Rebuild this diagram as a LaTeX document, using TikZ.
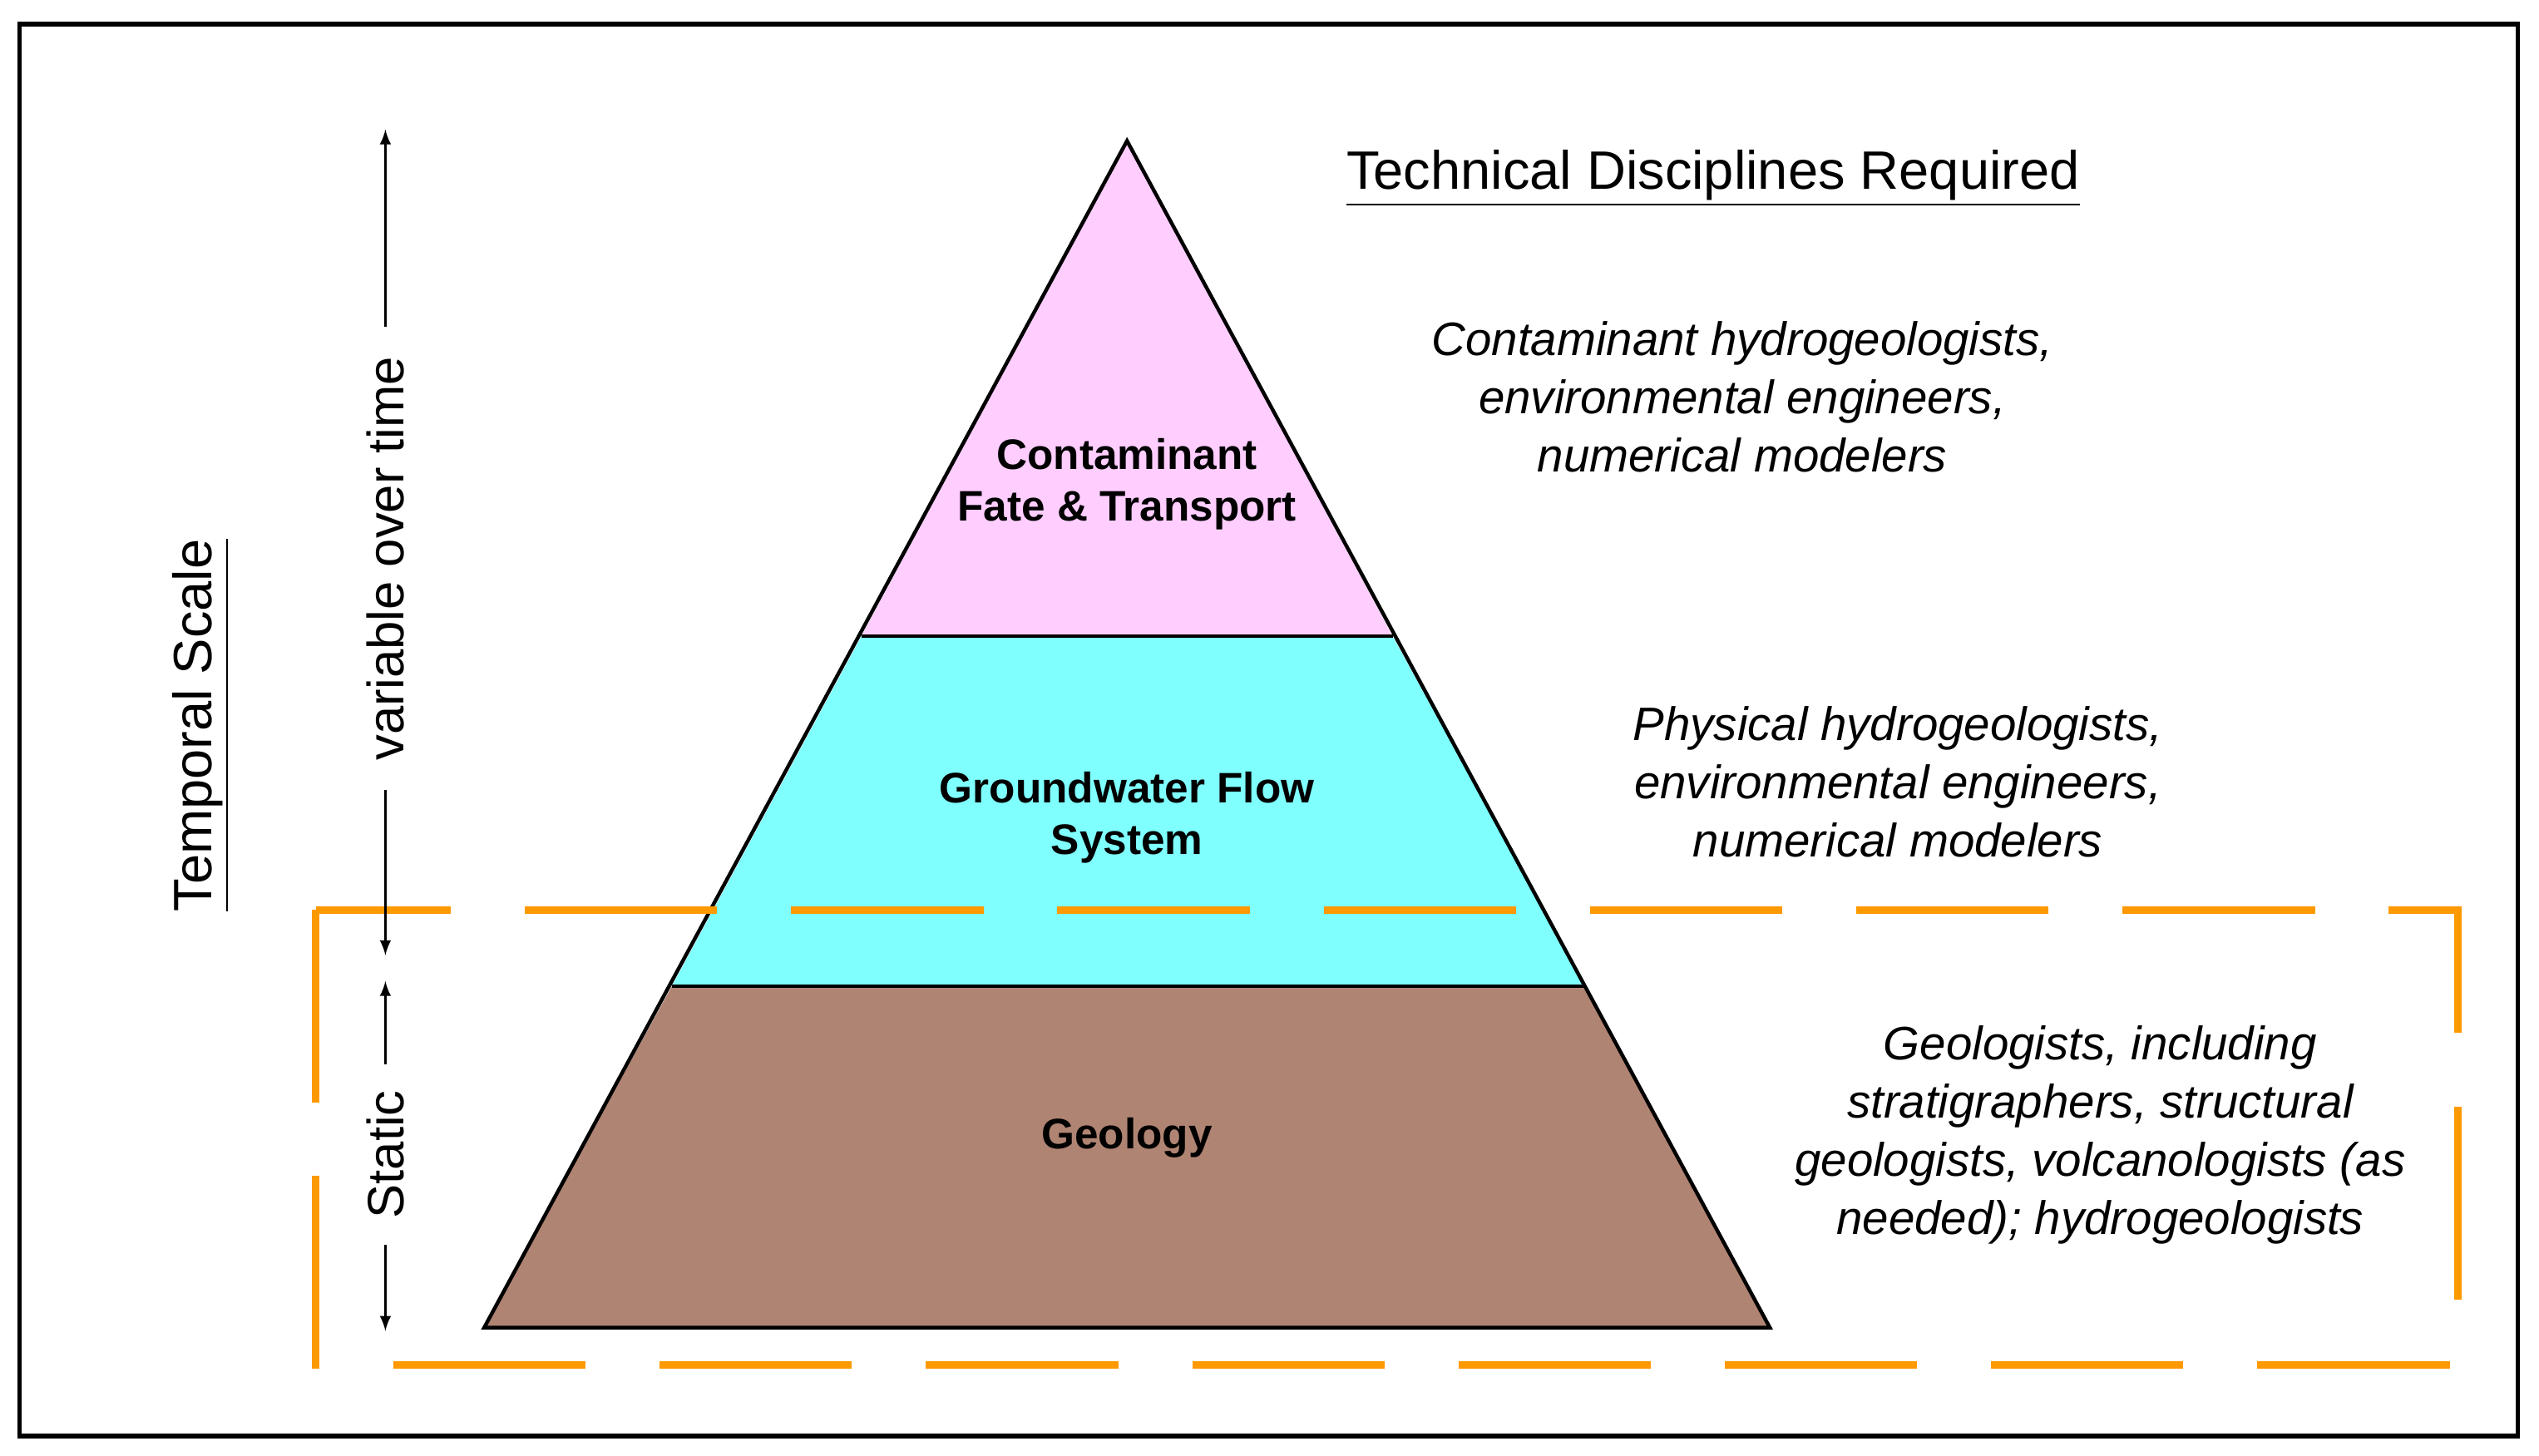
\documentclass[tikz,border=0pt]{standalone}
\usepackage{fontspec}
\setmainfont{Liberation Sans}
\definecolor{pinkL}{RGB}{255,206,255}
\definecolor{cyanL}{RGB}{128,255,255}
\definecolor{brownL}{RGB}{176,132,115}
\definecolor{orangeD}{RGB}{255,153,0}
\begin{document}
\begin{tikzpicture}[x=0.02cm,y=-0.02cm,
  lab/.style={font=\fontsize{15}{18}\selectfont\bfseries,align=center},
  disc/.style={font=\fontsize{16.5}{20.5}\selectfont\itshape,align=center},
  arr/.style={-latex,line width=0.8pt}]
\useasboundingbox (0,0) rectangle (1568,899);
\draw[line width=1.6pt] (12,15) rectangle (1555,887);
% pyramid
\coordinate (A) at (696,87);
\coordinate (L1) at (532,393); \coordinate (R1) at (860,393);
\coordinate (L2) at (415,609); \coordinate (R2) at (979,609);
\coordinate (BL) at (299,820); \coordinate (BR) at (1093,820);
\fill[brownL] (L2) -- (R2) -- (BR) -- (BL) -- cycle;
\fill[cyanL] (L1) -- (R1) -- (R2) -- (L2) -- cycle;
\fill[pinkL] (A) -- (R1) -- (L1) -- cycle;
\draw[line width=1.3pt,line join=miter] (A) -- (BR) -- (BL) -- cycle;
\draw[line width=1.3pt] (L1) -- (R1) (L2) -- (R2);
\node[lab] (ct) at (696,299) {Contaminant\\Fate \& Transport};
\node[lab] (gw) at (696,505) {Groundwater Flow\\System};
\node[lab] (ge) at (696,703) {Geology};
% orange dashed box
\draw[orangeD,line width=2.6pt,dash pattern=on 26\pgflinewidth off 10\pgflinewidth] (195,562) rectangle (1518,843);
% titles
\node[font=\fontsize{19}{22}\selectfont] (tt) at (1058,110) {\underline{Technical Disciplines Required}};
\node[disc] (d1) at (1076,245) {Contaminant hydrogeologists,\\environmental engineers,\\numerical modelers};
\node[disc] (d2) at (1172,483) {Physical hydrogeologists,\\environmental engineers,\\numerical modelers};
\node[disc] (d3) at (1297,701) {Geologists, including\\stratigraphers, structural\\geologists, volcanologists (as\\needed); hydrogeologists};
% temporal scale
\node[font=\fontsize{19}{22}\selectfont,rotate=90] (ts) at (124,448) {\underline{Temporal Scale}};
\node[font=\fontsize{18}{22}\selectfont,rotate=90] (vt) at (238,345) {variable over time};
\coordinate (vtop) at (238,80); \coordinate (vbot) at (238,590);
\draw[arr] (vt.east) ++(0,-12) -- (vtop);
\draw[arr] (vt.west) ++(0,12) -- (vbot);
\node[font=\fontsize{18}{22}\selectfont,rotate=90] (st) at (238,713) {Static};
\coordinate (stop) at (238,606); \coordinate (sbot) at (238,822);
\draw[arr] (st.east) ++(0,-10) -- (stop);
\draw[arr] (st.west) ++(0,10) -- (sbot);
\end{tikzpicture}
\end{document}
